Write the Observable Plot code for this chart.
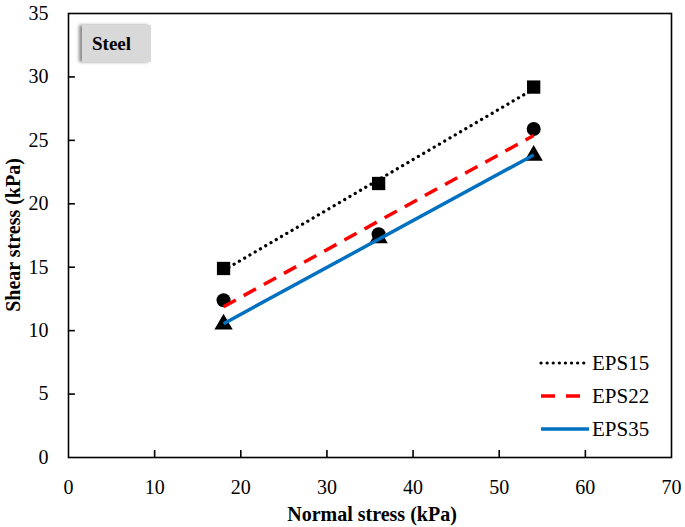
<!DOCTYPE html>
<html>
<head>
<meta charset="utf-8">
<script src="https://cdn.jsdelivr.net/npm/d3@7"></script>
<script src="https://cdn.jsdelivr.net/npm/@observablehq/plot@0.6"></script>
<style>
  html, body { margin: 0; padding: 0; background: #fff; }
  #wrap { position: relative; width: 685px; height: 527px; font-family: "Liberation Serif", serif; }
  #steel { position: absolute; left: 82px; top: 25px; width: 69px; height: 37px; background: #d9d9d9;
           box-shadow: -3px 0 3px rgba(0,0,0,0.45); font-family: "Liberation Serif", serif; font-weight: bold; font-size: 19px; line-height: 37px; padding-left: 10px; box-sizing: border-box; }
</style>
</head>
<body>
<div id="wrap"></div>
<script>
const normalStress = [18, 36, 54];
const eps15 = [14.9, 21.6, 29.2];
const eps22 = [12.4, 17.6, 25.9];
const eps35 = [10.5, 17.3, 23.8];
const seriesNames = ["EPS15", "EPS22", "EPS35"];
const xTicks = [0, 10, 20, 30, 40, 50, 60, 70];
const yTicks = [0, 5, 10, 15, 20, 25, 30, 35];

const styles = {
  EPS15: {stroke: "#000000", dash: "0.1,6", symbol: "square", r: 7.5, width: 3.2, cap: "round"},
  EPS22: {stroke: "#ff0000", dash: "14,9", symbol: "circle", r: 7, width: 3.5, cap: "butt"},
  EPS35: {stroke: "#0070c0", dash: null, symbol: "triangle", r: 6.8, width: 3.5, cap: "butt"}
};

const rows = [];
[eps15, eps22, eps35].forEach((vals, i) => {
  vals.forEach((v, j) => rows.push({series: seriesNames[i], x: normalStress[j], y: v}));
});

const marks = [];
seriesNames.forEach(s => {
  const d = rows.filter(r => r.series === s);
  marks.push(Plot.dot(d, {x: "x", y: "y", symbol: () => styles[s].symbol, r: styles[s].r, fill: "#000", stroke: "none"}));
});
seriesNames.forEach(s => {
  const d = rows.filter(r => r.series === s);
  marks.push(Plot.linearRegressionY(d, {x: "x", y: "y", stroke: styles[s].stroke, strokeWidth: styles[s].width,
    strokeDasharray: styles[s].dash, strokeLinecap: styles[s].cap, ci: 0}));
});

const chart = Plot.plot({
  width: 685,
  height: 527,
  marginLeft: 68,
  marginRight: 14,
  marginTop: 13,
  marginBottom: 70,
  style: {fontFamily: "Liberation Serif, serif", fontSize: "20px", color: "#000", background: "#fff"},
  symbol: {type: "identity"},
  x: {domain: [0, 70], ticks: xTicks},
  y: {domain: [0, 35], ticks: yTicks},
  marks: [
    Plot.axisX({ticks: xTicks, tickSize: 0, tickPadding: 22, label: null, fontSize: 20}),
    Plot.axisY({ticks: yTicks, tickSize: 0, tickPadding: 20, label: null, fontSize: 20}),
    Plot.ruleX(xTicks.slice(1, -1), {x: d => d, y1: 0, y2: 0.55, stroke: "#000", strokeWidth: 1.6}),
    Plot.ruleY(yTicks.slice(1, -1), {y: d => d, x1: 0, x2: 0.8, stroke: "#000", strokeWidth: 1.6}),
    Plot.frame({stroke: "#000", strokeWidth: 1.6}),
    ...marks
  ]
});

const wrap = document.getElementById("wrap");
wrap.appendChild(chart);

const svg = d3.select(chart);

// axis titles
svg.append("text").attr("x", 372).attr("y", 521).attr("text-anchor", "middle")
  .attr("font-weight", "bold").attr("font-size", 20).attr("font-family", "Liberation Serif, serif").text("Normal stress (kPa)");
svg.append("text").attr("transform", "translate(20,235) rotate(-90)").attr("text-anchor", "middle")
  .attr("font-weight", "bold").attr("font-size", 20).attr("font-family", "Liberation Serif, serif").text("Shear stress (kPa)");

// legend (inside svg)
const lg = svg.append("g").attr("font-family", "Liberation Serif, serif").attr("font-size", 21).attr("text-anchor", "start");
seriesNames.forEach((s, i) => {
  const st = styles[s];
  const yy = 363 + i * 33;
  const ln = lg.append("line").attr("x1", 541).attr("x2", 589).attr("y1", yy).attr("y2", yy)
    .attr("stroke", st.stroke).attr("stroke-width", st.width).attr("stroke-linecap", st.cap);
  if (st.dash) ln.attr("stroke-dasharray", s === "EPS22" ? "14,11" : st.dash);
  lg.append("text").attr("x", 592).attr("y", yy + 7).attr("text-anchor", "start").text(s);
});

// Steel label
const steel = document.createElement("div");
steel.id = "steel";
steel.textContent = "Steel";
wrap.appendChild(steel);
</script>
</body>
</html>
